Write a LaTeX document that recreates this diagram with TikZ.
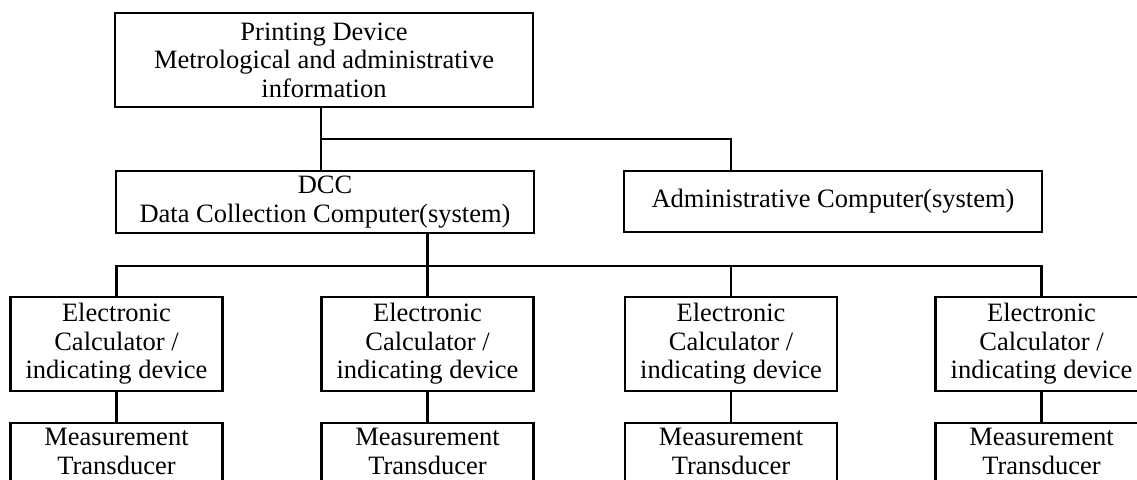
\documentclass[tikz,border=0pt]{standalone}
\usepackage{fontspec}
\setmainfont{Liberation Serif}
\begin{document}
\begin{tikzpicture}[x=1pt,y=-1pt,
  box/.style={draw=black, line width=2.2pt, rectangle, inner sep=0pt, align=center,
    font=\fontsize{26.5}{28.5}\selectfont},
  wide/.style={box, minimum width=418pt},
  small/.style={box, minimum width=212pt, minimum height=94pt},
  conn/.style={line width=2.2pt}]
\useasboundingbox (0,0) rectangle (1137,479);
\node[wide, minimum height=94pt] (top) at (324,60) {Printing Device\\Metrological and administrative\\information};
\node[wide, minimum height=62pt] (dcc) at (325,202) {DCC\\Data Collection Computer(system)};
\node[wide, minimum height=61pt] (adm) at (833,201.5) {Administrative Computer(system)};
\foreach \i/\x in {1/116.5,2/427.5,3/731,4/1041.5}{
  \node[small] (c\i) at (\x,344) {Electronic\\Calculator /\\indicating device};
  \node[small] (m\i) at (\x,470) {Measurement\\Transducer\\\strut};
  \draw[conn] (c\i.south) -- (m\i.north);
}
\coordinate (j1) at (321,139);
\coordinate (j2) at (731,139);
\coordinate (b0) at (427.5,266);
\draw[conn] (top.south -| j1) -- (dcc.north -| j1);
\draw[conn] (j1) -- (j2) -- (adm.north -| j2);
\draw[conn] (dcc.south -| b0) -- (b0);
\draw[conn] (c1.north) -- (c1.north |- b0) -- (c4.north |- b0) -- (c4.north);
\draw[conn] (c2.north) -- (c2.north |- b0);
\draw[conn] (c3.north) -- (c3.north |- b0);
\end{tikzpicture}
\end{document}
